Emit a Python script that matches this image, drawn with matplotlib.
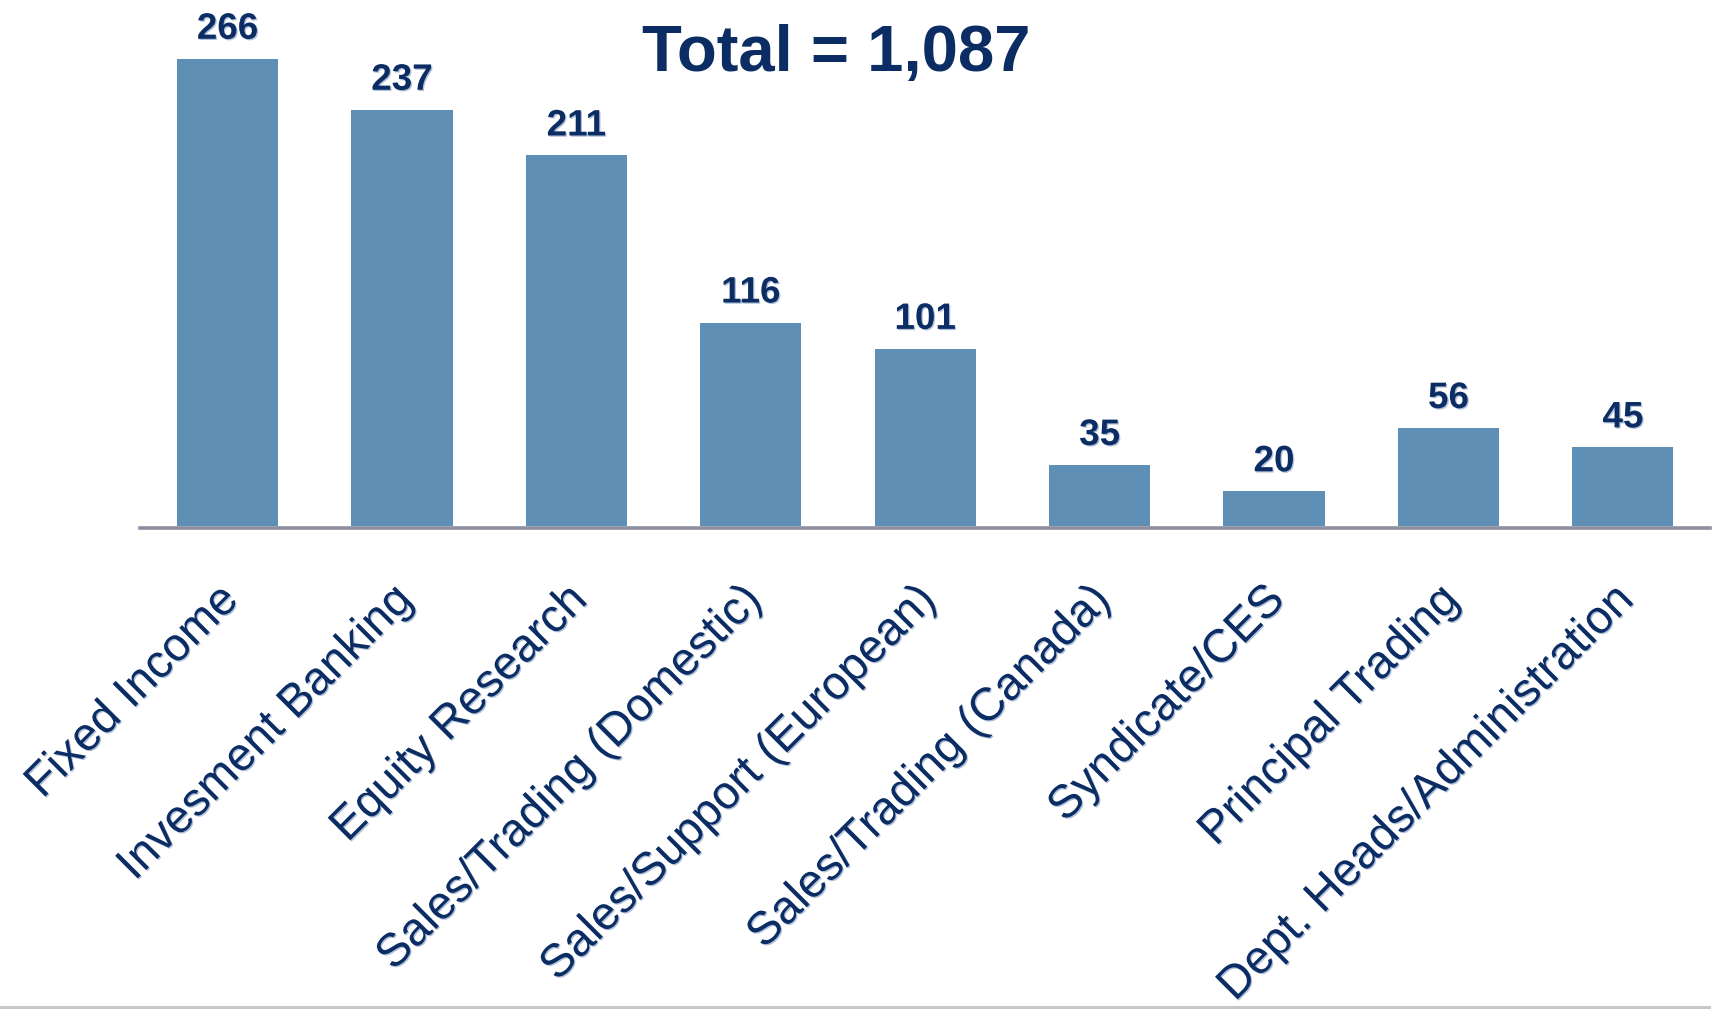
import matplotlib
matplotlib.use("Agg")
import matplotlib.pyplot as plt
import matplotlib.patheffects as pe
from matplotlib.lines import Line2D
from matplotlib.transforms import ScaledTranslation

# Headcount by department
categories = [
    "Fixed Income",
    "Invesment Banking",
    "Equity Research",
    "Sales/Trading (Domestic)",
    "Sales/Support (European)",
    "Sales/Trading (Canada)",
    "Syndicate/CES",
    "Principal Trading",
    "Dept. Heads/Administration",
]
headcount = [266, 237, 211, 116, 101, 35, 20, 56, 45]
title_text = "Total = 1,087"

BAR = "#5F8FB5"
NAVY = "#0B2D63"
FONT = "Liberation Sans"

W, H, DPI = 1714, 1012, 100
fig = plt.figure(figsize=(W / DPI, H / DPI), dpi=DPI)
fig.patch.set_facecolor("white")

# soft drop shadow used on the labels
shadow = [pe.SimplePatchShadow(offset=(0.9, -0.9), shadow_rgbFace="#8FA6C9",
                               alpha=0.7),
          pe.Normal()]

ax = fig.add_axes([0.0819, 0.4788, 0.9158, 0.5212])
x = list(range(len(categories)))
bars = ax.bar(x, headcount, width=0.58, color=BAR, zorder=1)

ax.set_xlim(-0.5, 8.5)
ax.set_ylim(0, 300)
ax.set_yticks([])
for side in ("top", "left", "right"):
    ax.spines[side].set_visible(False)
ax.spines["bottom"].set_color("#8C8FA0")
ax.spines["bottom"].set_linewidth(2.6)
ax.spines["bottom"].set_position(("outward", 1.1))
ax.spines["bottom"].set_zorder(3)

# value labels above each bar
for rect, val in zip(bars, headcount):
    ax.annotate(f"{val}", xy=(rect.get_x() + rect.get_width() / 2, val),
                xytext=(0, 14.4), textcoords="offset points",
                ha="center", va="baseline", fontsize=26.5,
                fontweight="bold", family=FONT, color=NAVY,
                path_effects=shadow)

# rotated category labels
ax.set_xticks(x)
ax.set_xticklabels(categories, rotation=45, ha="right", va="center",
                   rotation_mode="anchor", fontsize=33.5, family=FONT,
                   color=NAVY)
ax.tick_params(axis="x", length=0, pad=47)
offset = ScaledTranslation(4 / DPI, 0, fig.dpi_scale_trans)
for lbl in ax.get_xticklabels():
    lbl.set_transform(lbl.get_transform() + offset)
    lbl.set_path_effects(shadow)

fig.text(836 / W, 1 - 70.7 / H, title_text, ha="center", va="baseline",
         fontsize=47, fontweight="bold", family=FONT, color=NAVY)

# thin rule along the bottom edge
fig.add_artist(Line2D([0, 1709 / W], [1 - 1007.5 / H] * 2,
                      transform=fig.transFigure, color="#C8C8C8",
                      linewidth=2.2))

fig.savefig("out.png", dpi=DPI, facecolor="white")
